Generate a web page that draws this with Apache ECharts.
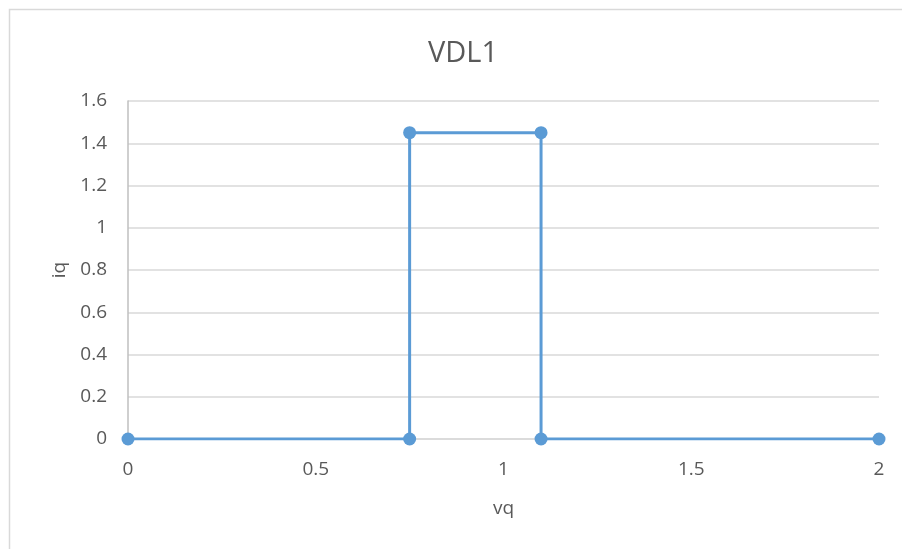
<!DOCTYPE html>
<html>
<head>
<meta charset="utf-8">
<script src="https://cdn.jsdelivr.net/npm/echarts@6/dist/echarts.min.js"></script>
<style>
  html, body { margin: 0; padding: 0; background: #fff; }
  #chart { width: 902px; height: 549px; }
</style>
</head>
<body>
<div id="chart"></div>
<script>
// VDL1 curve: step profile of iq against vq
const vq = [0, 0.75, 0.75, 1.1, 1.1, 2];
const iq = [0, 0, 1.45, 1.45, 0, 0];
const xTicks = [0, 0.5, 1, 1.5, 2];
const yTicks = [0, 0.2, 0.4, 0.6, 0.8, 1, 1.2, 1.4, 1.6];

const FONT = '"Open Sans", "Liberation Sans", sans-serif';
const TEXT = '#595959';

const chart = echarts.init(document.getElementById('chart'));
chart.setOption({
  backgroundColor: '#fff',
  animation: false,
  graphic: [{
    type: 'rect',
    shape: { x: 9.5, y: 9.5, width: 1000, height: 1000 },
    style: { fill: 'none', stroke: '#d9d9d9', lineWidth: 1.5 },
    silent: true
  }],
  title: {
    text: 'VDL1',
    left: 458,
    textAlign: 'center',
    top: 34,
    textStyle: { fontFamily: FONT, fontSize: 29, fontWeight: 'normal', color: TEXT }
  },
  grid: { left: 128, right: 23, top: 101, bottom: 110 },
  xAxis: {
    type: 'value',
    min: xTicks[0],
    max: xTicks[xTicks.length - 1],
    interval: 0.5,
    name: 'vq',
    nameLocation: 'middle',
    nameGap: 60,
    nameTextStyle: { fontFamily: FONT, fontSize: 19, color: TEXT },
    axisLine: { show: true, lineStyle: { color: '#d9d9d9', width: 1.5 } },
    axisTick: { show: false },
    splitLine: { show: false },
    axisLabel: { fontFamily: FONT, fontSize: 19, color: TEXT, margin: 21 }
  },
  yAxis: {
    type: 'value',
    min: yTicks[0],
    max: yTicks[yTicks.length - 1],
    interval: 0.2,
    name: 'iq',
    nameLocation: 'middle',
    nameGap: 59,
    nameTextStyle: { fontFamily: FONT, fontSize: 19, color: TEXT },
    axisLine: { show: true, lineStyle: { color: '#bfbfbf', width: 1.5 } },
    axisTick: { show: false },
    splitLine: { show: true, lineStyle: { color: '#d9d9d9', width: 1.5 } },
    axisLabel: {
      fontFamily: FONT, fontSize: 19, color: TEXT, margin: 21,
      formatter: v => String(Math.round(v * 10) / 10)
    }
  },
  series: [{
    type: 'line',
    data: vq.map((x, i) => [x, iq[i]]),
    symbol: 'circle',
    symbolSize: 13,
    lineStyle: { color: '#5B9BD5', width: 3 },
    itemStyle: { color: '#5B9BD5' },
    z: 5
  }]
});
</script>
</body>
</html>
